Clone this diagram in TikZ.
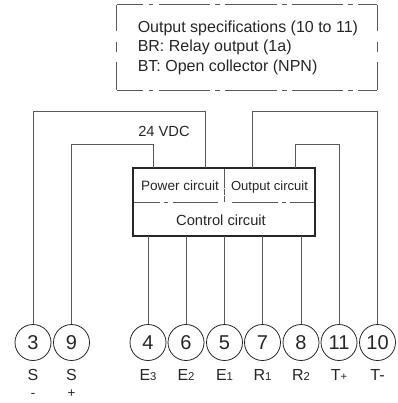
\documentclass[tikz,border=0pt]{standalone}
\usepackage{fontspec}
\setmainfont{Liberation Sans}
\definecolor{ln}{gray}{0.35}
\definecolor{tx}{gray}{0.15}
\newcommand{\sm}[1]{{\fontsize{8.5}{8.5}\selectfont #1}}
\tikzset{
  x=0.75pt,y=-0.75pt,
  wire/.style={draw=ln,line width=0.75pt},
  term/.style={circle,draw=tx,line width=0.6pt,minimum size=27pt,inner sep=0pt,font=\fontsize{15}{15}\selectfont,text=tx},
  lab/.style={inner sep=0pt,font=\fontsize{12}{12}\selectfont,text=tx},
  txt/.style={inner sep=0pt,font=\fontsize{10.2}{12}\selectfont,text=tx},
  spec/.style={inner sep=0pt,anchor=base west,font=\fontsize{12}{12}\selectfont,text=tx},
  hdash/.style={draw=ln,line width=0.75pt,dash pattern=on 38.6pt off 4pt on 3.5pt off 3.8pt,dash phase=18.4pt},
  vdash/.style={draw=ln,line width=0.75pt,dash pattern=on 19.5pt off 8pt on 7.5pt off 8pt on 30pt off 0pt},
  hdiv/.style={draw=ln,line width=0.75pt,dash pattern=on 20pt off 3pt on 3pt off 4pt on 34pt off 10pt on 35pt off 3pt on 3pt off 3pt on 30pt off 0pt},
  vdiv/.style={draw=ln,line width=0.75pt,dash pattern=on 15pt off 1pt on 4pt off 1pt on 10pt off 0pt}
}
\begin{document}
\begin{tikzpicture}
\useasboundingbox (0,0) rectangle (398,403);
\node[term] (t3) at (33,342.5) {3};
\node[term] (t9) at (71.5,342.5) {9};
\node[term] (t4) at (148,342.5) {4};
\node[term] (t6) at (186,342.5) {6};
\node[term] (t5) at (224.5,342.5) {5};
\node[term] (t7) at (262.5,342.5) {7};
\node[term] (t8) at (301,342.5) {8};
\node[term] (t11) at (339,342.5) {11};
\node[term] (t10) at (377.5,342.5) {10};
\foreach \n/\s/\x in {a/S/33,b/S/71.5,c/E\sm{3}/148,d/E\sm{2}/186,e/E\sm{1}/224.5,f/R\sm{1}/262.5,g/R\sm{2}/301,h/T\sm{+}/339,i/T-/377.5}
  \node[lab,anchor=base] (l\n) at (\x,380) {\s};
\node[inner sep=0pt,font=\fontsize{10}{10}\selectfont,text=tx,anchor=base] (m) at (33,397) {-};
\node[inner sep=0pt,font=\fontsize{10}{10}\selectfont,text=tx,anchor=base] (p) at (71.5,397) {+};
% circuit box
\coordinate (bl) at (133,236);
\coordinate (tr) at (314.5,168);
\draw[hdiv] (133,202) -- (314.5,202);
\draw[vdiv] (224.5,168) -- (224.5,202);
\draw[tx,line width=1.5pt] (bl) rectangle (tr);
\node[txt] (pc) at (180,186) {Power circuit};
\node[txt,font=\fontsize{9.8}{12}\selectfont] (oc) at (269.5,187) {Output circuit};
\node[txt,font=\fontsize{11}{12}\selectfont] (cc) at (221,220) {Control circuit};
\node[txt,font=\fontsize{11}{12}\selectfont] (v) at (164,131) {24 VDC};
% wires
\draw[wire] (t3.north) -- (33,111) -| (205,168);
\draw[wire] (t9.north) -- (71.5,144) -| (153,168);
\draw[wire] (t10.north) -- (377.5,111) -| (252,168);
\draw[wire] (t11.north) -- (339,144) -| (295.5,168);
\foreach \t/\x in {t4/148,t6/186,t5/224.5,t7/262.5,t8/301}
  \draw[wire] (\t.north) -- (\x,236);
% spec box
\draw[hdash] (116.5,5) -- (377,5);
\draw[hdash] (116.5,90) -- (377,90);
\draw[vdash] (116.5,5) -- (116.5,90);
\draw[vdash] (377,5) -- (377,90);
\node[spec] (s1) at (137.5,33) {Output specifications (10 to 11)};
\node[spec] (s2) at (137.5,52) {BR: Relay output (1a)};
\node[spec] (s3) at (137.5,71) {BT: Open collector (NPN)};
\end{tikzpicture}
\end{document}
